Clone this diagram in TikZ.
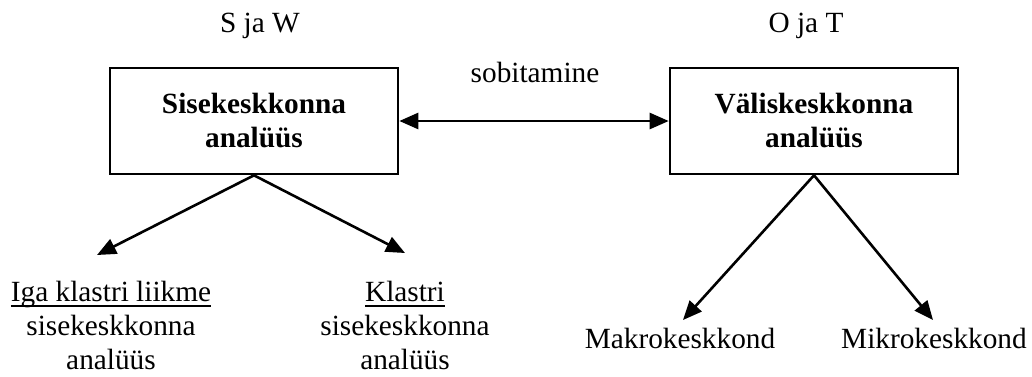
\documentclass[tikz,border=0pt]{standalone}
\usepackage{fontspec}
\setmainfont{Liberation Serif}
\usetikzlibrary{arrows.meta}
% underline drawn a fixed distance under the baseline
\newcommand\ulbar[1]{\setbox0\hbox{#1}\rlap{\rule[-2.5pt]{\wd0}{1pt}}\box0}
\tikzset{
  every node/.style={font=\fontsize{14.65pt}{17pt}\selectfont},
  box/.style={draw, line width=1.3pt, minimum width=144pt, minimum height=53pt,
              align=center, inner sep=0pt, font=\fontsize{14.65pt}{17pt}\selectfont\bfseries},
  label/.style={inner sep=0pt, align=center},
  head/.tip={Triangle[length=9.5pt,width=8pt]},
  link/.style={line width=1.3pt, -head},
  both/.style={line width=1.3pt, head-head},
}
\begin{document}
\begin{tikzpicture}[x=0.5pt, y=-0.5pt]
  \useasboundingbox (0,0) rectangle (1032,376);

  % headings
  \node[label, anchor=base] (sw) at (260,32) {S ja W};
  \node[label, anchor=base] (ot) at (806,32) {O ja T};
  \node[label, anchor=base] (fit) at (535,82) {sobitamine};

  % the two analyses
  \node[box] (inner) at (254,121) {Sisekeskkonna\\analüüs};
  \node[box] (outer) at (814,121) {Väliskeskkonna\\analüüs};

  % lower labels
  \node[label, anchor=north] (member) at (111,281) {\ulbar{Iga klastri liikme}\\sisekeskkonna\\analüüs};
  \node[label, anchor=north] (cluster) at (405,281) {\ulbar{Klastri}\\sisekeskkonna\\analüüs};
  \node[label, anchor=base] (macro) at (680,348) {Makrokeskkond};
  \node[label, anchor=base] (micro) at (934,348) {Mikrokeskkond};

  % arrow tips above the lower labels
  \coordinate (tmember) at (97,255);
  \coordinate (tcluster) at (405,253);
  \coordinate (tmacro) at (683,320);
  \coordinate (tmicro) at (933,320);

  % connectors
  \draw[both] (inner.east) -- (outer.west);
  \draw[link] (inner.south) -- (tmember);
  \draw[link] (inner.south) -- (tcluster);
  \draw[link] (outer.south) -- (tmacro);
  \draw[link] (outer.south) -- (tmicro);
\end{tikzpicture}
\end{document}
